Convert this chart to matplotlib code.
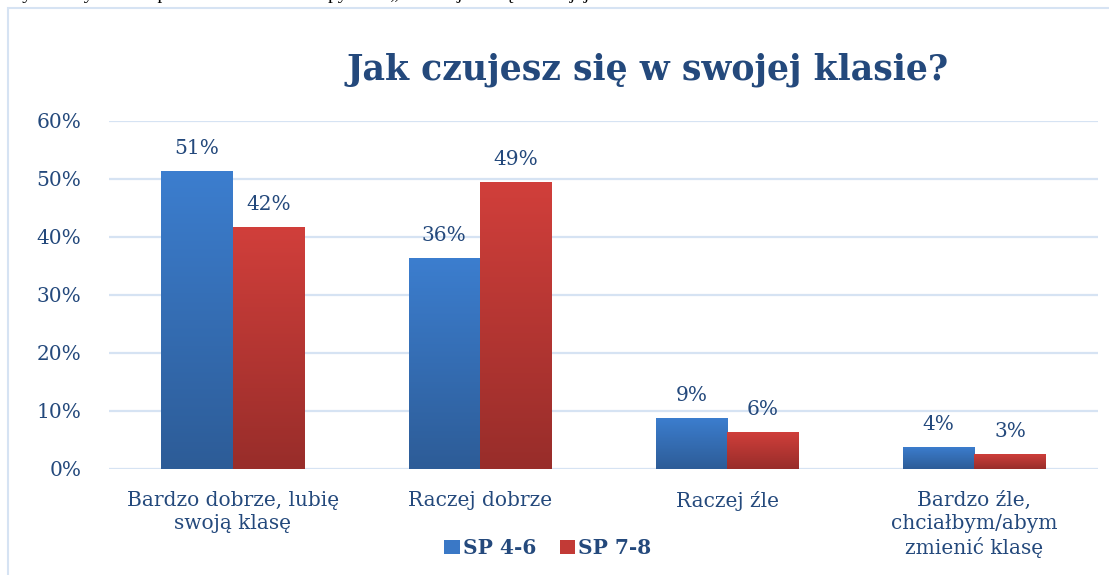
import matplotlib
matplotlib.use("Agg")
import matplotlib.pyplot as plt
import numpy as np
from matplotlib.colors import LinearSegmentedColormap
from matplotlib.patches import Rectangle, Patch

categories = ["Bardzo dobrze, lubię\nswoją klasę", "Raczej dobrze", "Raczej źle",
              "Bardzo źle,\nchciałbym/abym\nzmienić klasę"]
series_names = ["SP 4-6", "SP 7-8"]
sp46 = [0.514, 0.364, 0.088, 0.038]
sp78 = [0.418, 0.495, 0.064, 0.026]
labels46 = ["51%", "36%", "9%", "4%"]
labels78 = ["42%", "49%", "6%", "3%"]
yticks = [0, 0.1, 0.2, 0.3, 0.4, 0.5, 0.6]
ytick_labels = ["0%", "10%", "20%", "30%", "40%", "50%", "60%"]

TXT = "#24497c"
GRID = "#d6e3f3"
SERIF = ["DejaVu Serif"]

W, H = 1109, 575
fig = plt.figure(figsize=(W / 100, H / 100), dpi=100)
fig.patch.set_facecolor("white")

# chart frame
fig.add_artist(Rectangle((8 / W, -0.05), 1.2, 1 - 8 / H + 0.05, transform=fig.transFigure,
                         fill=False, edgecolor=GRID, linewidth=1.5))
# cut-off document text above the chart (only its lowest part shows)
fig.text(5 / W, 1 + 1 / H, "Wykres wyniki. Odpowiedzi uczniów na pytanie „Jak czujesz się w swojej klasie”",
         fontsize=14, family=["Liberation Serif"], color="black", ha="left", va="baseline")

ax = fig.add_axes([109 / W, 1 - 469 / H, (1098 - 109) / W, (469 - 121) / H])
x = np.arange(len(categories))
bw = 0.288

cmap_b = LinearSegmentedColormap.from_list("b", ["#2d5c97", "#3c7ecf"])
cmap_r = LinearSegmentedColormap.from_list("r", ["#982d2a", "#d13f3b"])
grad = np.linspace(0, 1, 256).reshape(-1, 1)

for vals, off, cmap, labs in [(sp46, -bw / 2, cmap_b, labels46), (sp78, bw / 2, cmap_r, labels78)]:
    bars = ax.bar(x + off, vals, width=bw, color="none", edgecolor="none", zorder=3)
    for b, lab in zip(bars, labs):
        x0, w, h = b.get_x(), b.get_width(), b.get_height()
        im = ax.imshow(grad, extent=[x0, x0 + w, 0, h], origin="lower", cmap=cmap,
                       aspect="auto", zorder=3)
        im.set_clip_path(b)
        ax.text(x0 + w / 2, h + 0.022, lab, ha="center", va="bottom", fontsize=14.5,
                family=SERIF, color=TXT, zorder=4)

ax.set_xlim(-0.5, len(categories) - 0.5)
ax.set_ylim(0, 0.6)
ax.set_yticks(yticks)
ax.set_yticklabels(ytick_labels, family=SERIF, fontsize=14.5, color=TXT)
ax.set_xticks(x)
ax.set_xticklabels(categories, family=SERIF, fontsize=14.5, color=TXT, linespacing=1.25, va="top")
ax.tick_params(axis="both", length=0)
ax.tick_params(axis="y", pad=20)
ax.tick_params(axis="x", pad=16)
ax.grid(axis="y", color=GRID, linewidth=1.6, zorder=0)
ax.set_axisbelow(True)
for s in ax.spines.values():
    s.set_visible(False)
ax.set_aspect("auto")

fig.text(648 / W, 1 - 70 / H, "Jak czujesz się w swojej klasie?", ha="center", va="center",
         fontsize=25, fontweight="bold", family=SERIF, color=TXT)

# legend
handles = [Patch(facecolor="#3a78c6", edgecolor="none"), Patch(facecolor="#c23a36", edgecolor="none")]
leg = fig.legend(handles, series_names, loc="center", bbox_to_anchor=(548 / W, 1 - 548 / H),
                 ncol=2, frameon=False, prop={"family": SERIF, "weight": "bold", "size": 14.5},
                 handlelength=0.75, handleheight=0.75, handletextpad=0.15, columnspacing=1.2)
for t in leg.get_texts():
    t.set_color(TXT)

fig.savefig("out.png", dpi=100, facecolor="white")
